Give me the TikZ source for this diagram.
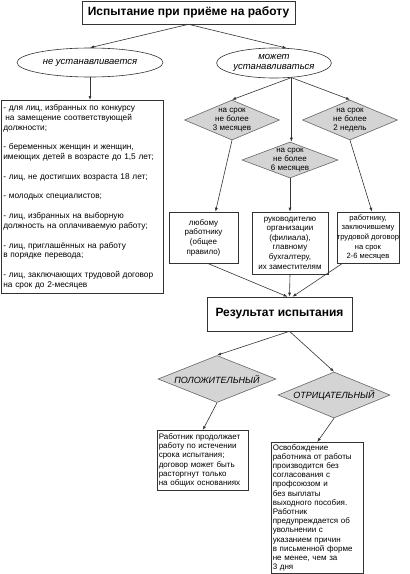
\documentclass[tikz,border=0pt]{standalone}
\usepackage{fontspec}
\setmainfont{Liberation Sans}
\usetikzlibrary{shapes.geometric,arrows.meta,calc}
\begin{document}
\begin{tikzpicture}[x=1pt,y=-1pt,
  line width=0.6pt,
  box/.style={draw=black!80, rectangle, inner sep=0pt},
  head/.style={box, font=\fontsize{12}{14}\selectfont\bfseries},
  oval/.style={draw=black!80, ellipse, inner sep=0pt, font=\fontsize{9.5}{10}\selectfont\itshape, align=center},
  dia/.style={draw=black!60, fill=black!17, diamond, inner sep=0pt},
  dtext/.style={font=\fontsize{8}{9}\selectfont, align=center, inner sep=0pt},
  btext/.style={font=\fontsize{8}{9.6}\selectfont, align=center},
  arr/.style={draw=black!80, -{Latex[length=4pt,width=3pt]}}]
\useasboundingbox (0,0) rectangle (410,574);
\fill[white] (0,0) rectangle (410,574);

\node[head, minimum width=213pt, minimum height=23pt] (title) at (188.5,12.5) {Испытание при приёме на работу};

\node[oval, minimum width=146pt, minimum height=29pt] (ellL) at (90,62.5) {не устанавливается};
\node[oval, minimum width=114pt, minimum height=30pt] (ellR) at (274,63) {может\\устанавливаться};

\node[box, anchor=north west, text width=158pt, minimum height=193pt, inner xsep=2pt, align=left, font=\fontsize{8.3}{9.83}\selectfont] (list) at (1,100) {%
- для лиц, избранных по конкурсу\\
\hspace*{2pt}на замещение соответствующей\\
должности;\\[9.83pt]
- беременных женщин и женщин,\\
имеющих детей в возрасте до 1,5 лет;\\[9.83pt]
- лиц, не достигших возраста 18 лет;\\[9.83pt]
- молодых специалистов;\\[9.83pt]
- лиц, избранных на выборную\\
должность на оплачиваемую работу;\\[9.83pt]
- лиц, приглашённых на работу\\
в порядке перевода;\\[9.83pt]
- лиц, заключающих трудовой договор\\
на срок до 2-месяцев};

\node[dia, minimum width=95pt, minimum height=40pt] (dL) at (232,120) {};
\node[dtext] (dLt) at (dL.center) {на срок\\не более\\3 месяцев};
\node[dia, minimum width=95pt, minimum height=40pt] (dR) at (350,120) {};
\node[dtext] (dRt) at (dR.center) {на срок\\не более\\2 недель};
\node[dia, minimum width=96pt, minimum height=36pt] (dM) at (290,160) {};
\node[dtext] (dMt) at (dM.center) {на срок\\не более\\6 месяцев};

\node[box, btext, minimum width=69pt, minimum height=51pt] (bL) at (203.5,237.5) {любому\\работнику\\(общее\\правило)};
\node[box, btext, minimum width=76pt, minimum height=62pt] (bM) at (290,243) {руководителю\\организации\\(филиала),\\главному\\бухгалтеру,\\их заместителям};
\node[box, btext, minimum width=62pt, minimum height=51pt, font=\fontsize{7.6}{9.6}\selectfont] (bR) at (368,237.5) {работнику,\\заключившему\\трудовой договор\\на срок\\2-6 месяцев};

\node[head, minimum width=145pt, minimum height=34pt] (res) at (279.5,314) {Результат испытания};

\node[dia, minimum width=118pt, minimum height=47pt] (dP) at (217,379) {};
\node[dtext, font=\fontsize{9}{10}\selectfont\itshape] (dPt) at (dP.center) {ПОЛОЖИТЕЛЬНЫЙ};
\node[dia, minimum width=112pt, minimum height=46pt] (dN) at (334,395) {};
\node[dtext, font=\fontsize{9}{10}\selectfont\itshape] (dNt) at (dN.center) {ОТРИЦАТЕЛЬНЫЙ};

\node[box, anchor=north west, text width=88pt, minimum height=60pt, inner xsep=1.5pt, align=left, font=\fontsize{8}{9.2}\selectfont] (pos) at (157,430) {Работник продолжает\\работу по истечении\\срока испытания;\\договор может быть\\расторгнут только\\на общих основаниях};
\node[box, anchor=north west, text width=89pt, inner xsep=1.5pt, inner ysep=2pt, align=left, font=\fontsize{8}{9.2}\selectfont] (neg) at (271,442) {Освобождение\\работника от работы\\производится без\\согласования с\\профсоюзом и\\без выплаты\\выходного пособия.\\Работник\\предупреждается об\\увольнении с\\указанием причин\\в письменной форме\\не менее, чем за\\3 дня};

% connectors
\draw[arr] (title.south) -- (ellL.north);
\draw[arr] (title.south) -- (ellR.50);
\draw[arr] (ellL.south) -- (ellL.south |- list.north);
\coordinate (eR) at (ellR.-40);
\draw[arr] (eR) -- (dL.north);
\draw[arr] (eR) -- (eR |- dM.north);
\draw[arr] (eR) -- (dR.north);
\draw[arr] (dL.south) -- ($(bL.north)+(12,0)$);
\draw[arr] (dM.south) -- (bM.north);
\draw[arr] (dR.south) -- ($(bR.north)+(4,0)$);
\draw[arr] ($(bL.south)+(4,0)$) -- ($(res.north)+(8,0)$);
\draw[arr] (bM.south) -- ($(res.north)+(10,0)$);
\draw[arr] ($(bR.south west)+(6,0)$) -- ($(res.north)+(13,0)$);
\coordinate (rs) at ($(res.south)+(10,0)$);
\draw[arr] (rs) -- (dP.north);
\draw[arr] (rs) -- (dN.north);
\draw[arr] (dP.south) -- (pos.north);
\draw[arr] (dN.south) -- (neg.north);
\end{tikzpicture}
\end{document}
